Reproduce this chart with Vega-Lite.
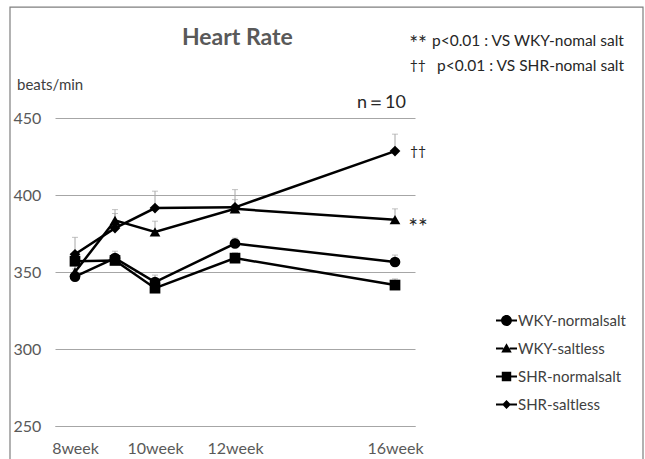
{
  "$schema": "https://vega.github.io/schema/vega-lite/v6.json",
  "width": 360,
  "height": 308,
  "autosize": {"type": "none"},
  "padding": {"left": 55, "top": 118, "right": 230, "bottom": 33},
  "background": "white",
  "config": {"view": {"stroke": null}, "font": "Lato"},
  "resolve": {"scale": {"shape": "independent"}, "legend": {"shape": "independent"}},
  "data": {"values": [
    {"series": "WKY-normalsalt", "week": 8, "hr": 347, "upper": 352},
    {"series": "WKY-normalsalt", "week": 9, "hr": 359, "upper": 363.5},
    {"series": "WKY-normalsalt", "week": 10, "hr": 343.5, "upper": 348},
    {"series": "WKY-normalsalt", "week": 12, "hr": 368.5, "upper": 372},
    {"series": "WKY-normalsalt", "week": 16, "hr": 356.5, "upper": 361},
    {"series": "WKY-saltless", "week": 8, "hr": 350, "upper": 355},
    {"series": "WKY-saltless", "week": 9, "hr": 383.5, "upper": 390.5},
    {"series": "WKY-saltless", "week": 10, "hr": 376, "upper": 383},
    {"series": "WKY-saltless", "week": 12, "hr": 391, "upper": 397},
    {"series": "WKY-saltless", "week": 16, "hr": 384, "upper": 391},
    {"series": "SHR-normalsalt", "week": 8, "hr": 357, "upper": 362},
    {"series": "SHR-normalsalt", "week": 9, "hr": 357.5, "upper": 361},
    {"series": "SHR-normalsalt", "week": 10, "hr": 339.5, "upper": 344},
    {"series": "SHR-normalsalt", "week": 12, "hr": 359, "upper": 362.5},
    {"series": "SHR-normalsalt", "week": 16, "hr": 341.5, "upper": 345.5},
    {"series": "SHR-saltless", "week": 8, "hr": 361.5, "upper": 372.5},
    {"series": "SHR-saltless", "week": 9, "hr": 378.5, "upper": 388},
    {"series": "SHR-saltless", "week": 10, "hr": 391.5, "upper": 402.5},
    {"series": "SHR-saltless", "week": 12, "hr": 392, "upper": 403.5},
    {"series": "SHR-saltless", "week": 16, "hr": 428.5, "upper": 439.5}
  ]},
  "layer": [
    {
      "data": {"values": [{}]},
      "mark": {"type": "rect", "fill": null, "stroke": "#7f7f7f", "strokeWidth": 1.2, "clip": false},
      "encoding": {
        "x": {"datum": 6.375, "type": "quantitative"},
        "x2": {"datum": 22.2},
        "y": {"datum": 522, "type": "quantitative"},
        "y2": {"datum": 215}
      }
    },
    {
      "mark": {"type": "rule", "color": "#a6a6a6", "strokeWidth": 1},
      "encoding": {
        "x": {"field": "week", "type": "quantitative",
          "scale": {"domain": [7.5, 16.5], "zero": false, "nice": false},
          "axis": {"values": [8, 10, 12, 16], "labelExpr": "datum.value + 'week'", "grid": false, "ticks": false, "domainColor": "#a6a6a6", "labelPadding": 14, "labelFontSize": 16, "labelColor": "#595959", "labelFont": "Lato", "labelFlush": false, "title": null}},
        "y": {"field": "hr", "type": "quantitative",
          "scale": {"domain": [250, 450], "zero": false, "nice": false},
          "axis": {"values": [250, 300, 350, 400, 450], "grid": true, "gridColor": "#a6a6a6", "domain": false, "ticks": false, "labelPadding": 42, "labelAlign": "left", "labelFontSize": 16, "labelColor": "#595959", "labelFont": "Lato", "title": null}},
        "y2": {"field": "upper"}
      }
    },
    {
      "mark": {"type": "tick", "orient": "horizontal", "color": "#a6a6a6", "size": 6, "thickness": 1},
      "encoding": {
        "x": {"field": "week", "type": "quantitative"},
        "y": {"field": "upper", "type": "quantitative"}
      }
    },
    {
      "mark": {"type": "line", "color": "black", "strokeWidth": 2.5},
      "encoding": {
        "x": {"field": "week", "type": "quantitative"},
        "y": {"field": "hr", "type": "quantitative"},
        "detail": {"field": "series"}
      }
    },
    {
      "mark": {"type": "point", "filled": true, "color": "black", "opacity": 1, "size": 115},
      "encoding": {
        "x": {"field": "week", "type": "quantitative"},
        "y": {"field": "hr", "type": "quantitative"},
        "shape": {"field": "series", "type": "nominal",
          "scale": {"domain": ["WKY-normalsalt", "WKY-saltless", "SHR-normalsalt", "SHR-saltless"], "range": ["circle", "triangle-up", "square", "diamond"]},
          "legend": null}
      }
    },
    {
      "transform": [{"filter": "datum.week > 100"}],
      "mark": {"type": "point", "filled": true, "fill": "black", "stroke": "black", "strokeWidth": 2, "opacity": 1, "size": 441},
      "encoding": {
        "x": {"field": "week", "type": "quantitative"},
        "y": {"field": "hr", "type": "quantitative"},
        "shape": {"field": "series", "type": "nominal",
          "scale": {"domain": ["WKY-normalsalt", "WKY-saltless", "SHR-normalsalt", "SHR-saltless"],
            "range": [
              "M-1,-0.1H-0.5V0.1H-1Z M0.5,-0.1H1V0.1H0.5Z M0.52,0A0.52,0.52,0,1,1,-0.52,0A0.52,0.52,0,1,1,0.52,0Z",
              "M-1,-0.1H-0.3V0.1H-1Z M0.3,-0.1H1V0.1H0.3Z M0,-0.5L0.5,0.38L-0.5,0.38Z",
              "M-1,-0.1H-0.45V0.1H-1Z M0.45,-0.1H1V0.1H0.45Z M-0.45,-0.45H0.45V0.45H-0.45Z",
              "M-1,-0.1H-0.33V0.1H-1Z M0.33,-0.1H1V0.1H0.33Z M0,-0.42L0.42,0L0,0.42L-0.42,0Z"
            ]},
          "legend": {"orient": "none", "legendX": 441, "legendY": 192, "title": null, "labelFontSize": 15, "labelColor": "#404040", "labelFont": "Lato", "rowPadding": 9, "labelOffset": 1, "padding": 0, "symbolSize": 441, "symbolFillColor": "black", "symbolStrokeColor": "black", "symbolStrokeWidth": 0, "symbolOpacity": 1}}
      }
    },
    {
      "data": {"values": [{}]},
      "mark": {"type": "text", "text": "Heart Rate", "align": "center", "baseline": "alphabetic", "fontSize": 23, "fontWeight": "bold", "color": "#595959", "font": "Lato"},
      "encoding": {"x": {"datum": 12.06, "type": "quantitative"}, "y": {"datum": 497.4, "type": "quantitative"}}
    },
    {
      "data": {"values": [{}]},
      "mark": {"type": "text", "text": "beats/min", "align": "left", "baseline": "middle", "fontSize": 15, "color": "#404040", "font": "Lato"},
      "encoding": {"x": {"datum": 6.55, "type": "quantitative"}, "y": {"datum": 471.4, "type": "quantitative"}}
    },
    {
      "data": {"values": [{}]},
      "mark": {"type": "text", "text": "n＝10", "align": "center", "baseline": "middle", "fontSize": 18, "color": "#262626", "font": "Lato"},
      "encoding": {"x": {"datum": 15.66, "type": "quantitative"}, "y": {"datum": 459.7, "type": "quantitative"}}
    },
    {
      "data": {"values": [{}]},
      "mark": {"type": "text", "text": "††", "align": "left", "baseline": "middle", "fontSize": 14, "color": "#262626", "font": "Lato"},
      "encoding": {"x": {"datum": 16.375, "type": "quantitative"}, "y": {"datum": 428, "type": "quantitative"}}
    },
    {
      "data": {"values": [{}]},
      "mark": {"type": "text", "text": "**", "align": "left", "baseline": "middle", "fontSize": 23, "color": "#262626", "font": "Lato", "dy": 5},
      "encoding": {"x": {"datum": 16.33, "type": "quantitative"}, "y": {"datum": 382, "type": "quantitative"}}
    },
    {
      "data": {"values": [{}]},
      "mark": {"type": "text", "text": "**", "align": "right", "baseline": "middle", "fontSize": 21, "color": "#262626", "font": "Lato", "dy": 4},
      "encoding": {"x": {"datum": 16.8, "type": "quantitative"}, "y": {"datum": 500, "type": "quantitative"}}
    },
    {
      "data": {"values": [{}]},
      "mark": {"type": "text", "text": "p<0.01 : VS WKY-nomal salt", "align": "left", "baseline": "middle", "fontSize": 15.5, "color": "#262626", "font": "Lato"},
      "encoding": {"x": {"datum": 16.925, "type": "quantitative"}, "y": {"datum": 500, "type": "quantitative"}}
    },
    {
      "data": {"values": [{}]},
      "mark": {"type": "text", "text": "††", "align": "right", "baseline": "middle", "fontSize": 14, "color": "#262626", "font": "Lato"},
      "encoding": {"x": {"datum": 16.775, "type": "quantitative"}, "y": {"datum": 483.8, "type": "quantitative"}}
    },
    {
      "data": {"values": [{}]},
      "mark": {"type": "text", "text": "p<0.01 : VS SHR-nomal salt", "align": "left", "baseline": "middle", "fontSize": 15.5, "color": "#262626", "font": "Lato"},
      "encoding": {"x": {"datum": 17.05, "type": "quantitative"}, "y": {"datum": 483.8, "type": "quantitative"}}
    }
  ]
}
